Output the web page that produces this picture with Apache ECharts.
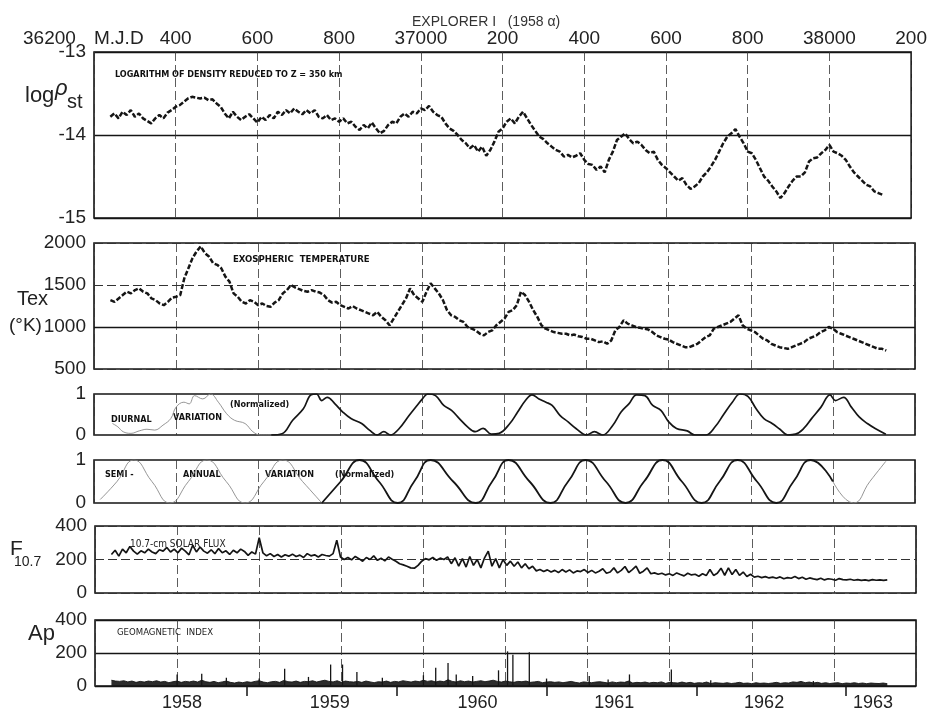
<!DOCTYPE html>
<html>
<head>
<meta charset="utf-8">
<script src="https://cdn.jsdelivr.net/npm/echarts@6/dist/echarts.min.js"></script>
<style>
  html, body { margin: 0; padding: 0; background: #fff; }
  #chart { width: 930px; height: 714px; }
</style>
</head>
<body>
<div id="chart"></div>
<script>
// ---- shared time axis (Modified Julian Day) ----
const X_MIN = 36200, X_MAX = 38200, X_STEP = 200;
const topTickLabels = ['36200', '400', '600', '800', '37000', '200', '400', '600', '800', '38000', '200'];
const yearBoundaryDays = [36569, 36934, 37300, 37665, 38030];
const yearLabelDays = [36412, 36772, 37132, 37465, 37830, 38095];
const yearNames = ['1958', '1959', '1960', '1961', '1962', '1963'];

// ---- log of density reduced to z = 350 km (10-day samples) ----
const densityStart = 36240, densityStep = 10;
const densityLog = [
  -13.78, -13.74, -13.80, -13.72, -13.76, -13.70, -13.78, -13.74, -13.80, -13.83,
  -13.86, -13.80, -13.76, -13.80, -13.73, -13.70, -13.66, -13.64, -13.60, -13.56,
  -13.54, -13.55, -13.56, -13.55, -13.58, -13.57, -13.62, -13.66, -13.74, -13.80,
  -13.72, -13.78, -13.82, -13.78, -13.75, -13.80, -13.85, -13.78, -13.82, -13.76,
  -13.80, -13.72, -13.76, -13.70, -13.74, -13.68, -13.72, -13.75, -13.70, -13.74,
  -13.70, -13.78, -13.80, -13.76, -13.82, -13.80, -13.84, -13.80, -13.86, -13.84,
  -13.90, -13.94, -13.88, -13.92, -13.85, -13.92, -13.98, -13.95, -13.88, -13.84,
  -13.86, -13.78, -13.74, -13.78, -13.72, -13.74, -13.68, -13.70, -13.65, -13.72,
  -13.76, -13.78, -13.86, -13.92, -13.95, -14.00, -14.06, -14.10, -14.16, -14.12,
  -14.20, -14.14, -14.25, -14.18, -14.08, -13.96, -13.92, -13.84, -13.80, -13.86,
  -13.78, -13.72, -13.80, -13.88, -13.95, -14.02, -14.05, -14.10, -14.14, -14.18,
  -14.20, -14.26, -14.24, -14.27, -14.25, -14.22, -14.30, -14.35, -14.36, -14.42,
  -14.38, -14.45, -14.30, -14.20, -14.06, -14.02, -13.98, -14.05, -14.10, -14.08,
  -14.12, -14.18, -14.22, -14.20, -14.30, -14.36, -14.40, -14.45, -14.50, -14.55,
  -14.52, -14.60, -14.65, -14.62, -14.58, -14.50, -14.45, -14.38, -14.30, -14.20,
  -14.10, -14.02, -13.98, -13.93, -14.02, -14.10, -14.20, -14.22, -14.30, -14.40,
  -14.50, -14.55, -14.62, -14.68, -14.76, -14.70, -14.62, -14.55, -14.50, -14.50,
  -14.45, -14.32, -14.28, -14.27, -14.22, -14.18, -14.12, -14.20, -14.22, -14.25,
  -14.30, -14.38, -14.45, -14.50, -14.55, -14.60, -14.62, -14.68, -14.70, -14.72
];

// ---- exospheric temperature, K (10-day samples) ----
const tempStart = 36240, tempStep = 10;
const tempExo = [
  1320, 1300, 1340, 1380, 1420, 1400, 1440, 1460, 1420, 1400,
  1340, 1320, 1280, 1260, 1300, 1350, 1360, 1380, 1580, 1700,
  1820, 1900, 1960, 1880, 1840, 1760, 1740, 1700, 1600, 1540,
  1400, 1360, 1300, 1280, 1320, 1300, 1260, 1280, 1250, 1240,
  1290, 1320, 1400, 1440, 1500, 1470, 1450, 1430, 1420, 1440,
  1420, 1410, 1380, 1320, 1290, 1300, 1260, 1240, 1220, 1250,
  1220, 1200, 1180, 1160, 1140, 1180, 1120, 1080, 1020, 1100,
  1180, 1260, 1340, 1460, 1380, 1340, 1300, 1420, 1520, 1460,
  1400, 1320, 1200, 1140, 1120, 1080, 1060, 1000, 980, 960,
  920, 900, 940, 960, 1020, 1060, 1100, 1180, 1200, 1260,
  1420, 1380, 1300, 1200, 1120, 1020, 980, 960, 940, 930,
  920, 920, 900, 910, 890, 880, 860, 860, 840, 820,
  830, 800, 840, 960, 1000, 1080, 1040, 1020, 1000, 990,
  980, 970, 940, 900, 880, 860, 850, 820, 800, 780,
  760, 760, 780, 800, 840, 880, 900, 980, 1000, 1020,
  1040, 1060, 1100, 1140, 1020, 980, 960, 940, 900, 860,
  840, 800, 780, 760, 750, 740, 760, 780, 800, 820,
  860, 880, 900, 940, 960, 1000, 980, 940, 920, 900,
  880, 860, 840, 820, 800, 780, 760, 740, 740, 720
];

// ---- diurnal variation (normalized) ----
const diurnalDays = [
  36245, 36258, 36271, 36290, 36310, 36329, 36348, 36368, 36387, 36400,
  36419, 36432, 36445, 36465, 36484, 36503, 36523, 36542, 36568, 36587,
  36606, 36632, 36658, 36684, 36710, 36729, 36742, 36755, 36768, 36787,
  36806, 36826, 36852, 36871, 36890, 36906, 36922, 36942, 36968, 36987,
  37000, 37013, 37032, 37052, 37071, 37090, 37110, 37129, 37148, 37168,
  37187, 37213, 37232, 37251, 37267, 37284, 37301, 37316, 37335, 37355,
  37374, 37400, 37419, 37439, 37464, 37484, 37503, 37522, 37542, 37561,
  37581, 37600, 37619, 37645, 37664, 37690, 37713, 37735, 37755, 37774,
  37793, 37813, 37832, 37852, 37871, 37890, 37909, 37929, 37948, 37971,
  37993, 38006, 38026, 38045, 38064, 38084, 38103, 38129
];
const diurnalValues = [
  0.28, 0.20, 0.08, 0.04, 0.10, 0.14, 0.12, 0.24, 0.40, 0.68,
  0.80, 0.76, 0.96, 0.88, 1.00, 0.80, 0.52, 0.36, 0.28, 0.08,
  0.00, 0.00, 0.03, 0.36, 0.64, 0.98, 1.00, 0.84, 0.92, 0.76,
  0.56, 0.40, 0.28, 0.12, 0.00, 0.08, 0.00, 0.14, 0.48, 0.72,
  0.88, 1.00, 0.96, 0.72, 0.60, 0.40, 0.20, 0.08, 0.16, 0.02,
  0.04, 0.28, 0.56, 0.84, 0.98, 0.88, 0.80, 0.72, 0.48, 0.32,
  0.16, 0.00, 0.08, 0.00, 0.24, 0.56, 0.76, 0.98, 0.96, 0.72,
  0.60, 0.32, 0.16, 0.10, 0.00, 0.00, 0.20, 0.52, 0.80, 1.00,
  0.94, 0.64, 0.40, 0.28, 0.14, 0.00, 0.02, 0.16, 0.40, 0.68,
  0.98, 0.84, 0.92, 0.68, 0.44, 0.28, 0.16, 0.02
];
const diurnalFaintUntil = 36632;

// ---- semi-annual variation (normalized) ----
const semiDays = [
  36215, 36256, 36297, 36341, 36385, 36430, 36475, 36522, 36568, 36614,
  36660, 36708, 36755, 36801, 36847, 36894, 36940, 36980, 37020, 37075,
  37130, 37170, 37210, 37261, 37312, 37355, 37398, 37447, 37495, 37540,
  37585, 37632, 37680, 37724, 37768, 37815, 37862, 37904, 37946, 38000,
  38050, 38090, 38129
];
const semiValues = [
  0.08, 0.5, 1, 0.5, 0, 0.5, 1, 0.5, 0, 0.5,
  1, 0.5, 0, 0.5, 1, 0.5, 0, 0.5, 1, 0.5,
  0, 0.5, 1, 0.5, 0, 0.5, 1, 0.5, 0, 0.5,
  1, 0.5, 0, 0.5, 1, 0.5, 0, 0.5, 1, 0.5,
  0, 0.5, 0.97
];
const semiBoldFrom = 36755, semiBoldTo = 38000;

// ---- 10.7-cm solar flux (9-day samples) ----
const fluxStart = 36240, fluxStep = 9;
const solarFlux = [
  230, 255, 220, 262, 240, 278, 250, 232, 252, 240,
  262, 245, 235, 258, 250, 272, 245, 262, 240, 268,
  250, 228, 285, 245, 275, 250, 238, 258, 235, 265,
  240, 252, 230, 255, 240, 262, 248, 225, 245, 232,
  330, 240, 222, 235, 218, 230, 215, 228, 220, 232,
  218, 226, 212, 235, 222, 228, 215, 230, 224, 220,
  235, 315, 215, 200, 212, 198, 218, 205, 190, 212,
  200, 222, 195, 208, 192, 215, 202, 190, 175, 168,
  160, 150, 148, 165, 190, 205, 198, 212, 195, 208,
  200, 215, 175, 210, 160, 205, 155, 218, 165, 200,
  150, 210, 250, 160, 205, 150, 200, 165, 190, 160,
  185, 150, 175, 145, 160, 132, 140, 128, 138, 125,
  135, 122, 140, 125, 138, 120, 132, 128, 140, 122,
  135, 120, 130, 145, 118, 125, 150, 120, 135, 158,
  122, 140, 160, 118, 130, 150, 115, 120, 112, 118,
  108, 115, 105, 120, 110, 102, 118, 108, 112, 100,
  115, 104, 140, 105, 118, 148, 106, 150, 110, 140,
  105, 125, 98, 112, 95, 100, 92, 98, 90, 95,
  88, 96, 85, 92, 88, 98, 86, 94, 82, 90,
  84, 80, 88, 78, 85, 82, 76, 86, 80, 78,
  82, 76, 80, 75, 78, 74, 80, 76, 78, 75,
  78
];

// ---- geomagnetic index Ap: background level (10-day samples) and storm spikes ----
const apStart = 36240, apStep = 10;
const apBase = [
  35, 30, 28, 32, 25, 30, 22, 28, 24, 30,
  26, 32, 24, 28, 20, 26, 30, 22, 28, 25,
  30, 24, 35, 26, 22, 28, 20, 25, 30, 22,
  18, 24, 20, 26, 22, 28, 32, 24, 20, 26,
  28, 22, 34, 26, 24, 30, 22, 28, 26, 32,
  24, 30, 35, 28, 25, 32, 22, 30, 26, 24,
  28, 22, 30, 25, 20, 26, 24, 30, 22, 28,
  25, 32, 28, 24, 30, 26, 35, 28, 32, 24,
  30, 26, 38, 28, 24, 32, 26, 30, 24, 28,
  32, 26, 30, 35, 28, 24, 30, 26, 22, 28,
  26, 30, 22, 25, 28, 20, 24, 26, 22, 25,
  20, 24, 28, 22, 18, 25, 22, 20, 24, 26,
  22, 18, 25, 20, 24, 22, 30, 18, 22, 20,
  24, 18, 22, 20, 25, 16, 22, 20, 18, 24,
  18, 22, 16, 20, 18, 24, 15, 20, 18, 16,
  20, 15, 18, 22, 16, 18, 14, 20, 16, 18,
  15, 18, 22, 16, 20, 18, 25, 22, 28, 20,
  24, 18, 22, 16, 20, 15, 18, 20, 14, 18,
  16, 20, 15, 18, 14, 18, 16, 15, 18, 14
];
const apSpikeDays = [
  36400, 36460, 36520, 36600, 36662, 36720, 36774, 36803, 36838, 36900,
  37000, 37030, 37060, 37080, 37120, 37183, 37205, 37218, 37258, 37300,
  37404, 37450, 37502, 37604, 37700, 37950
];
const apSpikeValues = [
  70, 75, 50, 45, 105, 55, 130, 130, 85, 50,
  65, 110, 140, 70, 60, 95, 210, 190, 205, 45,
  60, 40, 70, 100, 35, 30
];

// ---- helpers to build [x, y] pairs ----
const sampled = (start, step, values) => values.map((v, i) => [start + i * step, v]);
const zip = (days, values) => days.map((d, i) => [d, values[i]]);

const diurnalAll = zip(diurnalDays, diurnalValues);
const diurnalFaint = diurnalAll.filter(p => p[0] <= diurnalFaintUntil);
const diurnalBold = diurnalAll.filter(p => p[0] >= diurnalFaintUntil);

const semiAll = zip(semiDays, semiValues);
const semiFaintHead = semiAll.filter(p => p[0] <= semiBoldFrom);
const semiBold = semiAll.filter(p => p[0] >= semiBoldFrom && p[0] <= semiBoldTo);
const semiFaintTail = semiAll.filter(p => p[0] >= semiBoldTo);

const FONT = 'Liberation Sans';
const INK = '#151515';

const grids = [
  { left: 94, right: 15, top: 52, height: 166 },
  { left: 94, right: 15, top: 243, height: 126 },
  { left: 94, right: 15, top: 394, height: 41 },
  { left: 94, right: 15, top: 460, height: 43 },
  { left: 95, right: 14, top: 526, height: 67 },
  { left: 95, right: 14, top: 620, height: 66 }
].map(g => Object.assign({ show: true, borderColor: INK, borderWidth: 1.6, backgroundColor: 'transparent' }, g));

function xAxisFor(gridIndex, extra) {
  return Object.assign({
    type: 'value', gridIndex, min: X_MIN, max: X_MAX, interval: X_STEP,
    axisLine: { show: false }, axisTick: { show: false }, axisLabel: { show: false },
    splitLine: { show: true, lineStyle: { color: '#333', width: 0.8, type: [9, 4] } }
  }, extra || {});
}

function yAxisFor(gridIndex, min, max, interval, split) {
  return {
    type: 'value', gridIndex, min, max, interval,
    axisLine: { show: false }, axisTick: { show: false },
    axisLabel: {
      fontFamily: FONT, fontSize: 19, color: '#222', margin: 8,
      showMinLabel: true, showMaxLabel: true,
      formatter: v => String(v)
    },
    splitLine: split ? { show: true, lineStyle: split } : { show: false }
  };
}

const topAxis = xAxisFor(0, {
  position: 'top',
  axisLabel: {
    show: true, margin: 4, fontFamily: FONT, fontSize: 19, color: '#222',
    showMinLabel: true, showMaxLabel: true, hideOverlap: false,
    formatter: v => {
      const i = Math.round((v - X_MIN) / X_STEP);
      return i === 0 ? '{a|' + topTickLabels[i] + '}{b|M.J.D}' : topTickLabels[i];
    },
    rich: {
      a: { width: 71, align: 'left', fontFamily: FONT, fontSize: 19, color: '#222' },
      b: { width: 71, align: 'left', fontFamily: FONT, fontSize: 19, color: '#222' }
    }
  }
});

const yearAxis = {
  type: 'value', gridIndex: 5, min: X_MIN, max: X_MAX, position: 'bottom',
  axisLine: { show: false },
  axisTick: { show: true, customValues: yearBoundaryDays, length: 10, inside: false, lineStyle: { color: INK, width: 1.5 } },
  axisLabel: {
    show: true, customValues: yearLabelDays, margin: 8, fontFamily: FONT, fontSize: 18, color: '#222',
    formatter: v => yearNames[yearLabelDays.indexOf(v)]
  },
  splitLine: { show: false }
};

const blackLine = (w, type) => ({ color: INK, width: w, type: type || 'solid' });

const option = {
  animation: false,
  backgroundColor: '#fff',
  grid: grids,
  xAxis: [
    topAxis,
    xAxisFor(1), xAxisFor(2), xAxisFor(3), xAxisFor(4), xAxisFor(5),
    yearAxis
  ],
  yAxis: [
    yAxisFor(0, -15, -13, 1, { color: INK, width: 1.4, type: 'solid' }),
    yAxisFor(1, 500, 2000, 500, { color: '#333', width: 1, type: [9, 4] }),
    yAxisFor(2, 0, 1, 1, null),
    yAxisFor(3, 0, 1, 1, null),
    yAxisFor(4, 0, 400, 200, { color: '#333', width: 1, type: [9, 4] }),
    yAxisFor(5, 0, 400, 200, { color: INK, width: 1.4, type: 'solid' })
  ],
  series: [
    {
      name: 'log density', type: 'line', xAxisIndex: 0, yAxisIndex: 0,
      data: sampled(densityStart, densityStep, densityLog),
      showSymbol: false, lineStyle: blackLine(2.5, [5, 2])
    },
    {
      name: 'Tex', type: 'line', xAxisIndex: 1, yAxisIndex: 1,
      data: sampled(tempStart, tempStep, tempExo),
      showSymbol: false, lineStyle: blackLine(2.5, [5, 2]),
      markLine: {
        silent: true, symbol: 'none', label: { show: false },
        lineStyle: { color: INK, type: 'solid', width: 1.3 },
        data: [{ yAxis: 1000 }]
      }
    },
    {
      name: 'diurnal faint', type: 'line', xAxisIndex: 2, yAxisIndex: 2, smooth: 0.4,
      data: diurnalFaint, showSymbol: false, lineStyle: { color: '#8a8a8a', width: 0.9 }
    },
    {
      name: 'diurnal', type: 'line', xAxisIndex: 2, yAxisIndex: 2, smooth: 0.4,
      data: diurnalBold, showSymbol: false, lineStyle: blackLine(1.7)
    },
    {
      name: 'semi-annual head', type: 'line', xAxisIndex: 3, yAxisIndex: 3, smooth: 0.5,
      data: semiFaintHead, showSymbol: false, lineStyle: { color: '#8a8a8a', width: 0.9 }
    },
    {
      name: 'semi-annual', type: 'line', xAxisIndex: 3, yAxisIndex: 3, smooth: 0.5,
      data: semiBold, showSymbol: false, lineStyle: blackLine(1.8)
    },
    {
      name: 'semi-annual tail', type: 'line', xAxisIndex: 3, yAxisIndex: 3, smooth: 0.5,
      data: semiFaintTail, showSymbol: false, lineStyle: { color: '#8a8a8a', width: 0.9 }
    },
    {
      name: 'F10.7', type: 'line', xAxisIndex: 4, yAxisIndex: 4,
      data: sampled(fluxStart, fluxStep, solarFlux),
      showSymbol: false, lineStyle: blackLine(1.7)
    },
    {
      name: 'Ap', type: 'line', xAxisIndex: 5, yAxisIndex: 5,
      data: sampled(apStart, apStep, apBase),
      showSymbol: false, lineStyle: blackLine(0.9),
      areaStyle: { color: INK, opacity: 0.9 }
    },
    {
      name: 'Ap storms', type: 'bar', xAxisIndex: 5, yAxisIndex: 5,
      data: zip(apSpikeDays, apSpikeValues), barWidth: 1.3,
      itemStyle: { color: INK }
    }
  ],
  graphic: [
    { type: 'text', x: 412, y: 22, style: { text: 'EXPLORER I   (1958 α)', font: '14px "Liberation Sans"', fill: '#333', verticalAlign: 'middle' } },

    { type: 'text', x: 25, y: 96, style: { text: 'log', font: '22px "Liberation Sans"', fill: '#222', verticalAlign: 'middle' } },
    { type: 'text', x: 55, y: 89, style: { text: 'ρ', font: 'italic 22px "Liberation Sans"', fill: '#222', verticalAlign: 'middle' } },
    { type: 'text', x: 67, y: 102, style: { text: 'st', font: '20px "Liberation Sans"', fill: '#222', verticalAlign: 'middle' } },

    { type: 'text', x: 17, y: 299, style: { text: 'Tex', font: '20px "Liberation Sans"', fill: '#222', verticalAlign: 'middle' } },
    { type: 'text', x: 9, y: 326, style: { text: '(°K)', font: '19px "Liberation Sans"', fill: '#222', verticalAlign: 'middle' } },

    { type: 'text', x: 10, y: 549, style: { text: 'F', font: '21px "Liberation Sans"', fill: '#222', verticalAlign: 'middle' } },
    { type: 'text', x: 14, y: 562, style: { text: '10.7', font: '14px "Liberation Sans"', fill: '#222', verticalAlign: 'middle' } },

    { type: 'text', x: 28, y: 634, style: { text: 'Ap', font: '22px "Liberation Sans"', fill: '#222', verticalAlign: 'middle' } },

    { type: 'text', x: 115, y: 75, style: { text: 'LOGARITHM OF DENSITY REDUCED TO Z = 350 km', font: 'bold 9px "DejaVu Sans Condensed"', fill: '#111', verticalAlign: 'middle' } },
    { type: 'text', x: 233, y: 260, style: { text: 'EXOSPHERIC  TEMPERATURE', font: 'bold 9.5px "DejaVu Sans Condensed"', fill: '#111', verticalAlign: 'middle' } },

    { type: 'text', x: 111, y: 420, style: { text: 'DIURNAL', font: 'bold 9px "DejaVu Sans Condensed"', fill: '#111', verticalAlign: 'middle' } },
    { type: 'text', x: 173, y: 418, style: { text: 'VARIATION', font: 'bold 9px "DejaVu Sans Condensed"', fill: '#111', verticalAlign: 'middle' } },
    { type: 'text', x: 230, y: 405, style: { text: '(Normalized)', font: 'bold 9px "DejaVu Sans Condensed"', fill: '#111', verticalAlign: 'middle' } },

    { type: 'text', x: 105, y: 475, style: { text: 'SEMI -', font: 'bold 9px "DejaVu Sans Condensed"', fill: '#111', verticalAlign: 'middle' } },
    { type: 'text', x: 183, y: 475, style: { text: 'ANNUAL', font: 'bold 9px "DejaVu Sans Condensed"', fill: '#111', verticalAlign: 'middle' } },
    { type: 'text', x: 265, y: 475, style: { text: 'VARIATION', font: 'bold 9px "DejaVu Sans Condensed"', fill: '#111', verticalAlign: 'middle' } },
    { type: 'text', x: 335, y: 475, style: { text: '(Normalized)', font: 'bold 9px "DejaVu Sans Condensed"', fill: '#111', verticalAlign: 'middle' } },

    { type: 'text', x: 130, y: 544, style: { text: '10.7-cm SOLAR FLUX', font: '10px "DejaVu Sans Condensed"', fill: '#222', verticalAlign: 'middle' } },
    { type: 'text', x: 117, y: 633, style: { text: 'GEOMAGNETIC  INDEX', font: '9.5px "DejaVu Sans Condensed"', fill: '#222', verticalAlign: 'middle' } }
  ]
};

const chart = echarts.init(document.getElementById('chart'), null, { renderer: 'canvas' });
chart.setOption(option);
</script>
</body>
</html>
